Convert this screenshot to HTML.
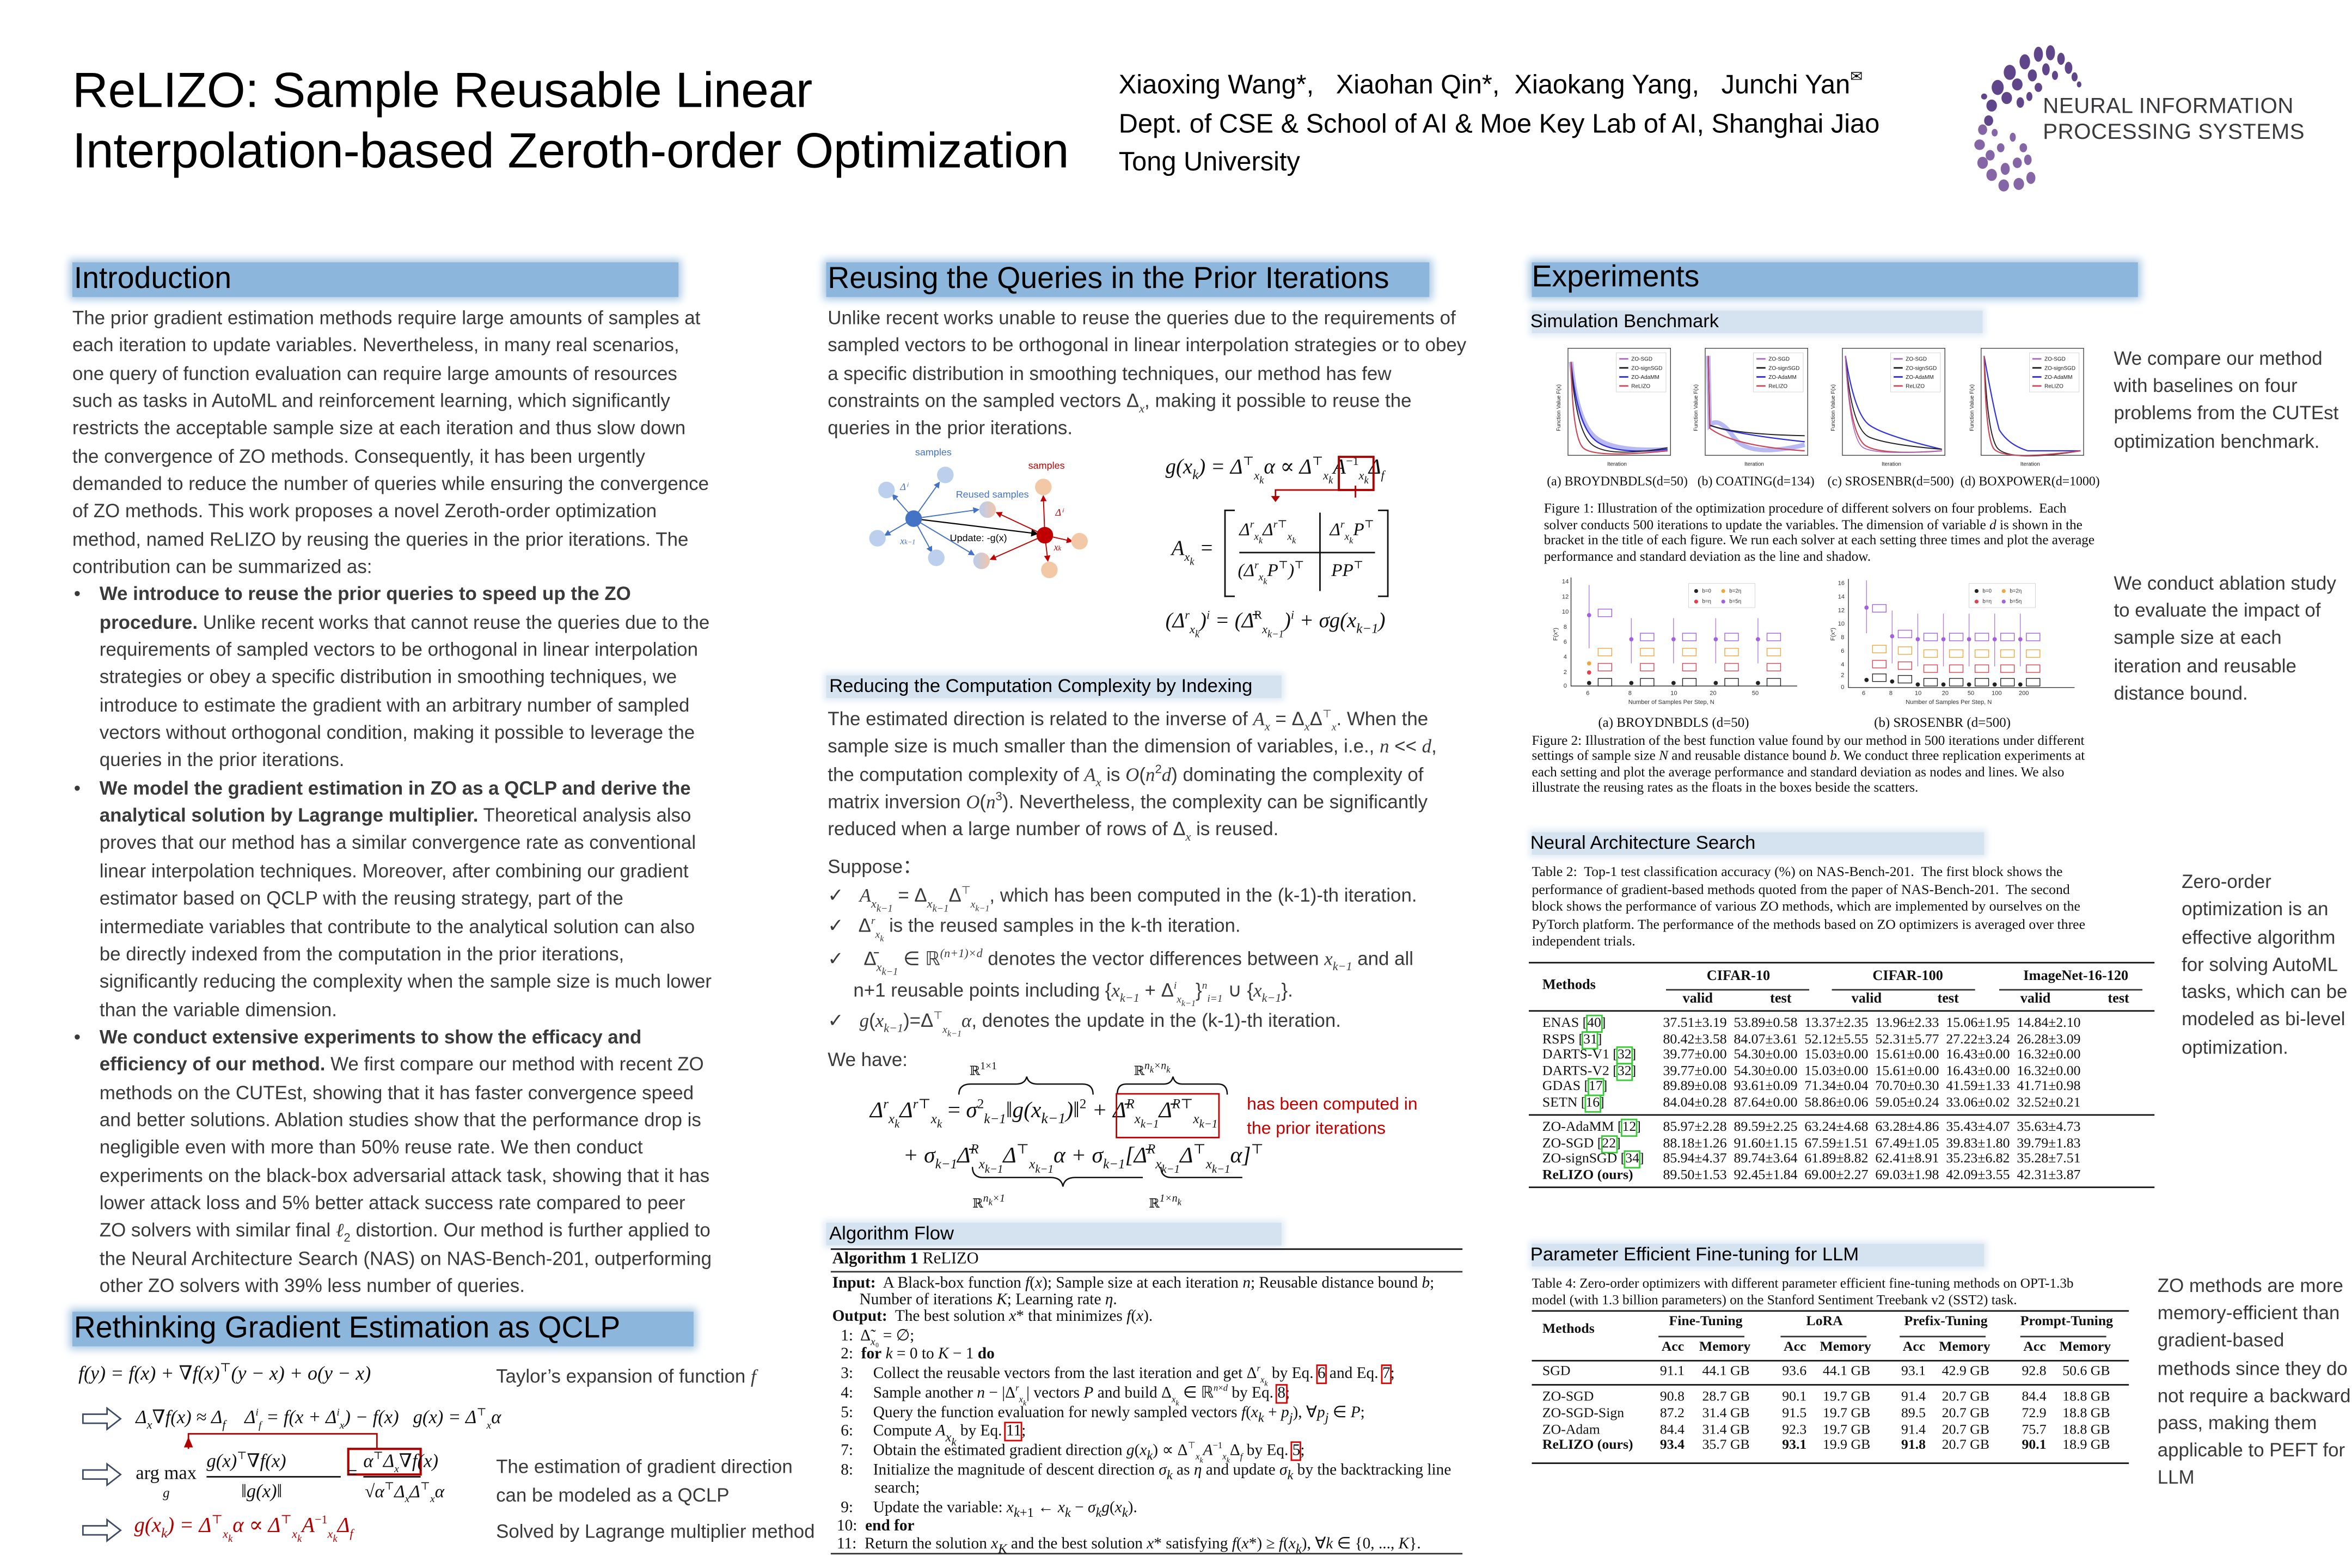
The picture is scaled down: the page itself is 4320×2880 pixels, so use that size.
<!DOCTYPE html>
<html><head><meta charset="utf-8">
<style>
html,body{margin:0;padding:0;background:#fff;}
body{width:4320px;height:2880px;overflow:hidden;position:relative;}
#w{position:absolute;left:0;top:0;width:1560px;height:1040px;transform:scale(2.76923);transform-origin:0 0;font-family:"Liberation Sans",Arial,sans-serif;color:#333;}
sub,sup{line-height:0;}
.t{position:absolute;white-space:nowrap;}
.hb{position:absolute;height:23px;background:#8cb6db;box-shadow:0 0 5px 2px #a9c8e4;}
.ht{position:absolute;white-space:nowrap;font-size:20px;color:#000;line-height:23px;}
.sb{position:absolute;height:15px;background:#d5e3f0;box-shadow:0 0 4px 2px #e1ebf5;}
.st{position:absolute;white-space:nowrap;font-size:12.5px;color:#000;line-height:15px;}
.body{font-size:12.6px;line-height:18.34px;color:#3a3a3a;}
.body div{white-space:nowrap;}
.m{font-family:"Liberation Serif","DejaVu Serif",serif;font-style:italic;}
.s{font-family:"Liberation Serif","DejaVu Serif",serif;color:#111;}
.alg{font-family:"Liberation Serif",serif;font-size:10.6px;color:#111;}
.red{color:#b00000;}
</style></head><body><div id="w">

<!-- Title -->
<div class="t" style="left:48px;top:40px;font-size:33px;line-height:40px;color:#000;letter-spacing:-0.15px;">ReLIZO: Sample Reusable Linear<br>Interpolation-based Zeroth-order Optimization</div>
<div class="t" style="left:742px;top:40px;font-size:17.6px;color:#000;line-height:24px;">Xiaoxing Wang*,&nbsp;&nbsp; Xiaohan Qin*,&nbsp; Xiaokang Yang,&nbsp;&nbsp; Junchi Yan<span style="font-size:10px;vertical-align:8px;">✉</span></div>
<div class="t" style="left:742px;top:70px;font-size:17.6px;color:#000;line-height:24.5px;">Dept. of CSE &amp; School of AI &amp; Moe Key Lab of AI, Shanghai Jiao<br>Tong University</div>

<!-- Logo -->
<svg class="t" style="left:1305px;top:28px;" width="100" height="102" viewBox="0 0 100 102">
<g fill="#5f4589">
<ellipse cx="20" cy="30" rx="4" ry="5"/><ellipse cx="28" cy="20" rx="4" ry="5"/><ellipse cx="38" cy="13" rx="3.5" ry="5"/><ellipse cx="47" cy="8" rx="3" ry="5"/><ellipse cx="55" cy="7" rx="3" ry="5"/><ellipse cx="62" cy="11" rx="2.5" ry="4"/><ellipse cx="67" cy="17" rx="2.5" ry="4"/><ellipse cx="71" cy="23" rx="2" ry="3"/><ellipse cx="74" cy="28" rx="1.5" ry="2"/>
<ellipse cx="16" cy="42" rx="3.5" ry="4"/><ellipse cx="26" cy="37" rx="3.5" ry="4"/><ellipse cx="33" cy="28" rx="3.5" ry="4"/><ellipse cx="43" cy="22" rx="3" ry="4"/><ellipse cx="52" cy="18" rx="2.5" ry="4"/><ellipse cx="58" cy="22" rx="2" ry="3"/><ellipse cx="47" cy="30" rx="2.5" ry="3"/><ellipse cx="35" cy="40" rx="2.5" ry="3.5"/><ellipse cx="41" cy="36" rx="2" ry="3"/><ellipse cx="14" cy="52" rx="3" ry="3.5"/><ellipse cx="11" cy="36" rx="2" ry="2"/>
</g>
<g fill="#8466a6">
<ellipse cx="10" cy="58" rx="3" ry="3.5"/><ellipse cx="8" cy="68" rx="3.5" ry="3.5"/><ellipse cx="15" cy="75" rx="3" ry="3.5"/><ellipse cx="22" cy="70" rx="2.5" ry="3"/><ellipse cx="10" cy="80" rx="3.5" ry="4"/><ellipse cx="16" cy="88" rx="3.5" ry="4"/><ellipse cx="25" cy="84" rx="3" ry="4"/><ellipse cx="33" cy="80" rx="3" ry="3.5"/><ellipse cx="24" cy="95" rx="3.5" ry="4"/><ellipse cx="34" cy="94" rx="3.5" ry="4"/><ellipse cx="42" cy="90" rx="3" ry="4"/><ellipse cx="37" cy="70" rx="2.5" ry="3"/><ellipse cx="30" cy="63" rx="2" ry="3"/><ellipse cx="18" cy="60" rx="2" ry="2.5"/><ellipse cx="40" cy="78" rx="2.5" ry="3.5"/>
</g></svg>
<div class="t" style="left:1355px;top:63px;font-size:14.5px;line-height:16.5px;color:#3a3a3d;letter-spacing:0.2px;">NEURAL INFORMATION<br>PROCESSING SYSTEMS</div>

<!-- Section headers -->
<div class="hb" style="left:48px;top:174px;width:402px;"></div><div class="ht" style="left:49px;top:174px;">Introduction</div>
<div class="hb" style="left:548px;top:174px;width:400px;"></div><div class="ht" style="left:549px;top:174px;">Reusing the Queries in the Prior Iterations</div>
<div class="hb" style="left:1016px;top:174px;width:402px;"></div><div class="ht" style="left:1016px;top:173px;">Experiments</div>
<div class="hb" style="left:48px;top:870px;width:412px;"></div><div class="ht" style="left:49px;top:870px;">Rethinking Gradient Estimation as QCLP</div>

<!-- Intro text -->
<div class="t body" style="left:48px;top:202px;">
<div>The prior gradient estimation methods require large amounts of samples at</div>
<div>each iteration to update variables. Nevertheless, in many real scenarios,</div>
<div>one query of function evaluation can require large amounts of resources</div>
<div>such as tasks in AutoML and reinforcement learning, which significantly</div>
<div>restricts the acceptable sample size at each iteration and thus slow down</div>
<div>the convergence of ZO methods. Consequently, it has been urgently</div>
<div>demanded to reduce the number of queries while ensuring the convergence</div>
<div>of ZO methods. This work proposes a novel Zeroth-order optimization</div>
<div>method, named ReLIZO by reusing the queries in the prior iterations. The</div>
<div>contribution can be summarized as:</div>
</div>
<div class="t body" style="left:48px;top:385.4px;">
<div style="position:absolute;left:1px;">•</div>
<div style="margin-left:18px;"><b>We introduce to reuse the prior queries to speed up the ZO</b></div>
<div style="margin-left:18px;"><b>procedure.</b> Unlike recent works that cannot reuse the queries due to the</div>
<div style="margin-left:18px;">requirements of sampled vectors to be orthogonal in linear interpolation</div>
<div style="margin-left:18px;">strategies or obey a specific distribution in smoothing techniques, we</div>
<div style="margin-left:18px;">introduce to estimate the gradient with an arbitrary number of sampled</div>
<div style="margin-left:18px;">vectors without orthogonal condition, making it possible to leverage the</div>
<div style="margin-left:18px;">queries in the prior iterations.</div>
<div style="position:absolute;left:1px;top:128.4px;">•</div>
<div style="margin-left:18px;"><b>We model the gradient estimation in ZO as a QCLP and derive the</b></div>
<div style="margin-left:18px;"><b>analytical solution by Lagrange multiplier.</b> Theoretical analysis also</div>
<div style="margin-left:18px;">proves that our method has a similar convergence rate as conventional</div>
<div style="margin-left:18px;">linear interpolation techniques. Moreover, after combining our gradient</div>
<div style="margin-left:18px;">estimator based on QCLP with the reusing strategy, part of the</div>
<div style="margin-left:18px;">intermediate variables that contribute to the analytical solution can also</div>
<div style="margin-left:18px;">be directly indexed from the computation in the prior iterations,</div>
<div style="margin-left:18px;">significantly reducing the complexity when the sample size is much lower</div>
<div style="margin-left:18px;">than the variable dimension.</div>
<div style="position:absolute;left:1px;top:293.4px;">•</div>
<div style="margin-left:18px;"><b>We conduct extensive experiments to show the efficacy and</b></div>
<div style="margin-left:18px;"><b>efficiency of our method.</b> We first compare our method with recent ZO</div>
<div style="margin-left:18px;">methods on the CUTEst, showing that it has faster convergence speed</div>
<div style="margin-left:18px;">and better solutions. Ablation studies show that the performance drop is</div>
<div style="margin-left:18px;">negligible even with more than 50% reuse rate. We then conduct</div>
<div style="margin-left:18px;">experiments on the black-box adversarial attack task, showing that it has</div>
<div style="margin-left:18px;">lower attack loss and 5% better attack success rate compared to peer</div>
<div style="margin-left:18px;">ZO solvers with similar final <span class="m">ℓ</span><sub style="font-size:8px">2</sub> distortion. Our method is further applied to</div>
<div style="margin-left:18px;">the Neural Architecture Search (NAS) on NAS-Bench-201, outperforming</div>
<div style="margin-left:18px;">other ZO solvers with 39% less number of queries.</div>
</div>

<!-- QCLP equations -->
<div class="t s m" style="left:52px;top:903px;font-size:13px;">f(y) = f(x) + ∇f(x)<sup style="font-size:8px;font-style:normal">⊤</sup>(y − x) + o(y − x)</div>
<div class="t" style="left:329px;top:906px;font-size:12.6px;color:#3a3a3a;">Taylor’s expansion of function <span class="m">f</span></div>
<svg class="t" style="left:54px;top:933px;" width="28" height="16"><path d="M1 5 H17 V1 L26 8 L17 15 V11 H1 Z" fill="none" stroke="#3c4a66" stroke-width="1"/></svg>
<div class="t s m" style="left:90px;top:932px;font-size:12.5px;">Δ<sub style="font-size:8px">x</sub>∇f(x) ≈ Δ<sub style="font-size:8px">f</sub>&nbsp;&nbsp;&nbsp; Δ<sup style="font-size:7px">i</sup><sub style="font-size:7px">f</sub> = f(x + Δ<sup style="font-size:7px">i</sup><sub style="font-size:7px">x</sub>) − f(x)&nbsp;&nbsp; g(x) = Δ<sup style="font-size:7px;font-style:normal">⊤</sup><sub style="font-size:7px">x</sub>α</div>
<svg class="t" style="left:100px;top:948px;" width="190" height="32"><path d="M150 13 V3 H25 V13" fill="none" stroke="#b00000" stroke-width="1"/><path d="M22 12 L25 5 L28 12 Z" fill="#b00000"/><rect x="131" y="13" width="48" height="17" fill="none" stroke="#b00000" stroke-width="1.5"/></svg>
<svg class="t" style="left:54px;top:970px;" width="28" height="16"><path d="M1 5 H17 V1 L26 8 L17 15 V11 H1 Z" fill="none" stroke="#3c4a66" stroke-width="1"/></svg>
<div class="t s" style="left:90px;top:970px;font-size:12.5px;">arg max</div>
<div class="t s m" style="left:108px;top:985px;font-size:9px;">g</div>
<div class="t s m" style="left:137px;top:961px;font-size:12.5px;">g(x)<sup style="font-size:7px;font-style:normal">⊤</sup>∇f(x)</div>
<div class="t" style="left:137px;top:979px;width:89px;border-top:1px solid #111;"></div>
<div class="t s m" style="left:160px;top:982px;font-size:12.5px;">‖g(x)‖</div>
<div class="t s" style="left:230px;top:970px;font-size:12.5px;">=</div>
<div class="t s m" style="left:241px;top:961px;font-size:12.5px;">α<sup style="font-size:7px;font-style:normal">⊤</sup>Δ<sub style="font-size:7px">x</sub>∇f(x)</div>
<div class="t" style="left:241px;top:979px;width:38px;border-top:1px solid #111;"></div>
<div class="t s m" style="left:242px;top:982px;font-size:12px;">√α<sup style="font-size:7px;font-style:normal">⊤</sup>Δ<sub style="font-size:7px">x</sub>Δ<sup style="font-size:7px;font-style:normal">⊤</sup><sub style="font-size:7px">x</sub>α</div>
<div class="t" style="left:329px;top:964px;font-size:12.6px;line-height:18.5px;color:#3a3a3a;">The estimation of gradient direction<br>can be modeled as a QCLP</div>
<svg class="t" style="left:54px;top:1007px;" width="28" height="16"><path d="M1 5 H17 V1 L26 8 L17 15 V11 H1 Z" fill="none" stroke="#3c4a66" stroke-width="1"/></svg>
<div class="t s m red" style="left:89px;top:1004px;font-size:14px;color:#b00000;">g(x<sub style="font-size:9px">k</sub>) = Δ<sup style="font-size:8px;font-style:normal">⊤</sup><sub style="font-size:8px">x<sub>k</sub></sub>α ∝ Δ<sup style="font-size:8px;font-style:normal">⊤</sup><sub style="font-size:8px">x<sub>k</sub></sub>A<sup style="font-size:8px;font-style:normal">−1</sup><sub style="font-size:8px">x<sub>k</sub></sub>Δ<sub style="font-size:8px">f</sub></div>
<div class="t" style="left:329px;top:1009px;font-size:12.6px;color:#3a3a3a;">Solved by Lagrange multiplier method</div>

<!-- Column 2 -->
<div class="t body" style="left:549px;top:202px;">
<div>Unlike recent works unable to reuse the queries due to the requirements of</div>
<div>sampled vectors to be orthogonal in linear interpolation strategies or to obey</div>
<div>a specific distribution in smoothing techniques, our method has few</div>
<div>constraints on the sampled vectors Δ<sub style="font-size:8px" class="m">x</sub>, making it possible to reuse the</div>
<div>queries in the prior iterations.</div>
</div>
<svg class="t" style="left:560px;top:292px;" width="180" height="95" viewBox="560 292 180 95">
<defs><marker id="ab" markerWidth="6" markerHeight="6" refX="5" refY="3" orient="auto"><path d="M0 0 L6 3 L0 6 Z" fill="#4472c4"/></marker>
<marker id="ar" markerWidth="6" markerHeight="6" refX="5" refY="3" orient="auto"><path d="M0 0 L6 3 L0 6 Z" fill="#c00000"/></marker>
<marker id="ak" markerWidth="6" markerHeight="6" refX="5" refY="3" orient="auto"><path d="M0 0 L6 3 L0 6 Z" fill="#000"/></marker>
<linearGradient id="g1" x1="0" x2="1"><stop offset="0" stop-color="#b9cdee"/><stop offset="1" stop-color="#f1c6ab"/></linearGradient></defs>
<g stroke="#4472c4" stroke-width="0.7" marker-end="url(#ab)"><line x1="606" y1="344" x2="592" y2="328"/><line x1="606" y1="344" x2="623" y2="320"/><line x1="606" y1="344" x2="587" y2="355"/><line x1="606" y1="344" x2="618" y2="366"/><line x1="606" y1="344" x2="649" y2="338"/><line x1="606" y1="344" x2="646" y2="368"/></g>
<g stroke="#c00000" stroke-width="0.7" marker-end="url(#ar)"><line x1="693" y1="355" x2="692" y2="329"/><line x1="693" y1="355" x2="711" y2="359"/><line x1="693" y1="355" x2="695" y2="372"/><line x1="693" y1="355" x2="661" y2="340"/><line x1="693" y1="355" x2="657" y2="371"/></g>
<line x1="606" y1="344" x2="688" y2="354" stroke="#000" stroke-width="0.8" marker-end="url(#ak)"/>
<g fill="#bcd0ee"><circle cx="588" cy="325" r="5.5"/><circle cx="627" cy="315" r="5.5"/><circle cx="582" cy="357" r="5.5"/><circle cx="621" cy="370" r="5.5"/></g>
<circle cx="655" cy="338" r="5.5" fill="url(#g1)"/><circle cx="651" cy="372" r="5.5" fill="url(#g1)"/>
<g fill="#f2c8a7"><circle cx="692" cy="323" r="5.5"/><circle cx="716" cy="359" r="5.5"/><circle cx="696" cy="378" r="5.5"/></g>
<circle cx="606" cy="344" r="5.5" fill="#4472c4"/><circle cx="693" cy="355" r="5.5" fill="#c00000"/>
<g font-family="Liberation Sans" font-size="6.5"><text x="607" y="302" fill="#4472c4">samples</text><text x="682" y="311" fill="#c00000">samples</text><text x="634" y="330" fill="#4472c4">Reused samples</text><text x="630" y="359" fill="#000">Update: -g(x)</text>
<text x="597" y="325" fill="#4472c4" font-style="italic" font-family="Liberation Serif">Δⁱ</text><text x="597" y="361" fill="#4472c4" font-style="italic" font-family="Liberation Serif">x<tspan font-size="4.5">k−1</tspan></text><text x="700" y="342" fill="#c00000" font-style="italic" font-family="Liberation Serif">Δⁱ</text><text x="699" y="365" fill="#c00000" font-style="italic" font-family="Liberation Serif">x<tspan font-size="4.5">k</tspan></text></g>
</svg>
<div class="t s m" style="left:773px;top:302px;font-size:14px;">g(x<sub style="font-size:9px">k</sub>) = Δ<sup style="font-size:8px;font-style:normal">⊤</sup><sub style="font-size:8px">x<sub>k</sub></sub>α ∝ Δ<sup style="font-size:8px;font-style:normal">⊤</sup><sub style="font-size:8px">x<sub>k</sub></sub>A<sup style="font-size:8px;font-style:normal">−1</sup><sub style="font-size:8px">x<sub>k</sub></sub>Δ<sub style="font-size:8px">f</sub></div>
<svg class="t" style="left:800px;top:300px;" width="120" height="30"><rect x="88" y="3" width="23" height="22" fill="none" stroke="#b00000" stroke-width="1.4"/><path d="M99 25 V31" stroke="#b00000"/></svg>
<svg class="t" style="left:843px;top:322px;" width="60" height="12"><path d="M56 0 V3 H3 V8" fill="none" stroke="#b00000" stroke-width="1"/><path d="M0 7 L3 11 L6 7 Z" fill="#b00000"/></svg>
<div class="t s m" style="left:777px;top:357px;font-size:14px;">A<sub style="font-size:8px">x<sub>k</sub></sub> =</div>
<div class="t" style="left:812px;top:338px;width:6px;height:56px;border:1.5px solid #111;border-right:none;"></div>
<div class="t" style="left:914px;top:338px;width:6px;height:56px;border:1.5px solid #111;border-left:none;"></div>
<div class="t" style="left:875px;top:340px;height:52px;border-left:1px solid #111;"></div>
<div class="t" style="left:822px;top:366px;width:90px;border-top:1px solid #111;"></div>
<div class="t s m" style="left:822px;top:344px;font-size:12px;">Δ<sup style="font-size:7px">r</sup><sub style="font-size:7px">x<sub>k</sub></sub>Δ<sup style="font-size:7px">r⊤</sup><sub style="font-size:7px">x<sub>k</sub></sub></div>
<div class="t s m" style="left:882px;top:344px;font-size:12px;">Δ<sup style="font-size:7px">r</sup><sub style="font-size:7px">x<sub>k</sub></sub>P<sup style="font-size:7px;font-style:normal">⊤</sup></div>
<div class="t s m" style="left:821px;top:371px;font-size:12px;">(Δ<sup style="font-size:7px">r</sup><sub style="font-size:7px">x<sub>k</sub></sub>P<sup style="font-size:7px;font-style:normal">⊤</sup>)<sup style="font-size:7px;font-style:normal">⊤</sup></div>
<div class="t s m" style="left:883px;top:371px;font-size:12px;">PP<sup style="font-size:7px;font-style:normal">⊤</sup></div>
<div class="t s m" style="left:773px;top:405px;font-size:14px;">(Δ<sup style="font-size:8px">r</sup><sub style="font-size:8px">x<sub>k</sub></sub>)<sup style="font-size:8px">i</sup> = (Δ̄<sup style="font-size:8px;font-style:normal">R</sup><sub style="font-size:8px">x<sub>k−1</sub></sub>)<sup style="font-size:8px">i</sup> + σg(x<sub style="font-size:9px">k−1</sub>)</div>

<div class="sb" style="left:548px;top:448px;width:302px;"></div><div class="st" style="left:550px;top:448px;">Reducing the Computation Complexity by Indexing</div>
<div class="t body" style="left:549px;top:468px;">
<div>The estimated direction is related to the inverse of <span class="m">A<sub style="font-size:8px">x</sub></span> = Δ<sub style="font-size:8px" class="m">x</sub>Δ<sup style="font-size:7px">⊤</sup><sub style="font-size:7px" class="m">x</sub>. When the</div>
<div>sample size is much smaller than the dimension of variables, i.e., <span class="m">n</span> &lt;&lt; <span class="m">d</span>,</div>
<div>the computation complexity of <span class="m">A<sub style="font-size:8px">x</sub></span> is <span class="m">O</span>(<span class="m">n</span><sup style="font-size:8px">2</sup><span class="m">d</span>) dominating the complexity of</div>
<div>matrix inversion <span class="m">O</span>(<span class="m">n</span><sup style="font-size:8px">3</sup>). Nevertheless, the complexity can be significantly</div>
<div>reduced when a large number of rows of Δ<sub style="font-size:8px" class="m">x</sub> is reused.</div>
</div>
<div class="t body" style="left:549px;top:566px;">Suppose：</div>
<div class="t body" style="left:549px;top:585px;">✓&nbsp;&nbsp; <span class="m">A<sub style="font-size:8px">x<sub>k−1</sub></sub></span> = Δ<sub style="font-size:8px" class="m">x<sub>k−1</sub></sub>Δ<sup style="font-size:7px">⊤</sup><sub style="font-size:7px" class="m">x<sub>k−1</sub></sub>, which has been computed in the (k-1)-th iteration.</div>
<div class="t body" style="left:549px;top:605px;">✓&nbsp;&nbsp; Δ<sup style="font-size:7px" class="m">r</sup><sub style="font-size:7px" class="m">x<sub>k</sub></sub> is the reused samples in the k-th iteration.</div>
<div class="t body" style="left:549px;top:627px;">✓&nbsp;&nbsp;&nbsp; Δ̄<sub style="font-size:8px" class="m">x<sub>k−1</sub></sub> ∈ ℝ<sup style="font-size:8px" class="m">(n+1)×d</sup> denotes the vector differences between <span class="m">x<sub style="font-size:8px">k−1</sub></span> and all</div>
<div class="t body" style="left:566px;top:648px;">n+1 reusable points including {<span class="m">x<sub style="font-size:8px">k−1</sub></span> + Δ<sup style="font-size:7px" class="m">i</sup><sub style="font-size:7px" class="m">x<sub>k−1</sub></sub>}<sup style="font-size:7px" class="m">n</sup><sub style="font-size:7px" class="m">i=1</sub> ∪ {<span class="m">x<sub style="font-size:8px">k−1</sub></span>}.</div>
<div class="t body" style="left:549px;top:668px;">✓&nbsp;&nbsp; <span class="m">g</span>(<span class="m">x<sub style="font-size:8px">k−1</sub></span>)=Δ<sup style="font-size:7px">⊤</sup><sub style="font-size:7px" class="m">x<sub>k−1</sub></sub><span class="m">α</span>, denotes the update in the (k-1)-th iteration.</div>
<div class="t body" style="left:549px;top:694px;">We have:</div>

<div class="t s" style="left:643px;top:705px;font-size:8.5px;">ℝ<sup>1×1</sup></div>
<div class="t s" style="left:752px;top:705px;font-size:8.5px;"><span>ℝ</span><sup class="m">n<sub>k</sub>×n<sub>k</sub></sup></div>
<svg class="t" style="left:600px;top:714px;" width="230" height="80"><g fill="none" stroke="#111" stroke-width="0.9"><path d="M36 12 Q36 5 44 5 H74 Q80 5 81 0 Q82 5 88 5 H118 Q125 5 125 12"/><path d="M141 12 Q141 5 147 5 H172 Q177 5 178 0 Q179 5 184 5 H208 Q214 5 214 12"/><path d="M45 60 Q45 67 52 67 H97 Q104 67 105 73 Q106 67 113 67 H158"/><path d="M170 60 Q170 67 177 67 H224"/></g></svg>
<div class="t s m" style="left:577px;top:729px;font-size:15px;">Δ<sup style="font-size:9px">r</sup><sub style="font-size:9px">x<sub>k</sub></sub>Δ<sup style="font-size:9px">r⊤</sup><sub style="font-size:9px">x<sub>k</sub></sub> <span style="font-style:normal">=</span> σ<sup style="font-size:9px;font-style:normal">2</sup><sub style="font-size:9px">k−1</sub>‖g(x<sub style="font-size:10px">k−1</sub>)‖<sup style="font-size:9px;font-style:normal">2</sup> + Δ̄<sup style="font-size:9px">R</sup><sub style="font-size:9px">x<sub>k−1</sub></sub>Δ̄<sup style="font-size:9px">R⊤</sup><sub style="font-size:9px">x<sub>k−1</sub></sub></div>
<div class="t" style="left:740px;top:725px;width:67px;height:28px;border:1.5px solid #c00000;"></div>
<div class="t" style="left:827px;top:725px;font-size:11.5px;line-height:16px;color:#c00000;">has been computed in<br>the prior iterations</div>
<div class="t s m" style="left:599px;top:759px;font-size:15px;">+ σ<sub style="font-size:9px">k−1</sub>Δ̄<sup style="font-size:9px">R</sup><sub style="font-size:9px">x<sub>k−1</sub></sub>Δ<sup style="font-size:9px;font-style:normal">⊤</sup><sub style="font-size:9px">x<sub>k−1</sub></sub>α + σ<sub style="font-size:9px">k−1</sub>[Δ̄<sup style="font-size:9px">R</sup><sub style="font-size:9px">x<sub>k−1</sub></sub>Δ<sup style="font-size:9px;font-style:normal">⊤</sup><sub style="font-size:9px">x<sub>k−1</sub></sub>α]<sup style="font-size:9px;font-style:normal">⊤</sup></div>
<div class="t s" style="left:645px;top:793px;font-size:8.5px;">ℝ<sup class="m">n<sub>k</sub>×1</sup></div>
<div class="t s" style="left:762px;top:793px;font-size:8.5px;">ℝ<sup class="m">1×n<sub>k</sub></sup></div>

<div class="sb" style="left:548px;top:811px;width:302px;"></div><div class="st" style="left:550px;top:811px;">Algorithm Flow</div>
<div class="t" style="left:551px;top:828px;width:419px;border-top:1.3px solid #111;"></div>
<div class="t alg" style="left:552px;top:829px;font-size:11px;"><b>Algorithm 1</b> ReLIZO</div>
<div class="t" style="left:551px;top:843px;width:419px;border-top:0.8px solid #333;"></div>
<div class="t alg" style="left:552px;top:846px;line-height:11.2px;">
<div><b>Input:</b>&nbsp; A Black-box function <i>f</i>(<i>x</i>); Sample size at each iteration <i>n</i>; Reusable distance bound <i>b</i>;</div>
<div style="margin-left:18px;">Number of iterations <i>K</i>; Learning rate <i>η</i>.</div>
<div><b>Output:</b>&nbsp; The best solution <i>x</i>* that minimizes <i>f</i>(<i>x</i>).</div>
</div>
<div class="t alg" style="left:555px;top:881px;line-height:12.3px;">
<div>&nbsp;1:&nbsp; Δ̃<sub style="font-size:7px"><i>x</i>₀</sub> = ∅;</div>
<div>&nbsp;2:&nbsp; <b>for</b> <i>k</i> = 0 to <i>K</i> − 1 <b>do</b></div>
<div>&nbsp;3:&nbsp;&nbsp;&nbsp;&nbsp; Collect the reusable vectors from the last iteration and get Δ<sup style="font-size:6px"><i>r</i></sup><sub style="font-size:6px"><i>x<sub>k</sub></i></sub> by Eq. <span style="outline:1px solid #d00;">6</span> and Eq. <span style="outline:1px solid #d00;">7</span>;</div>
<div>&nbsp;4:&nbsp;&nbsp;&nbsp;&nbsp; Sample another <i>n</i> − |Δ<sup style="font-size:6px"><i>r</i></sup><sub style="font-size:6px"><i>x<sub>k</sub></i></sub>| vectors <i>P</i> and build Δ<sub style="font-size:6px"><i>x<sub>k</sub></i></sub> ∈ ℝ<sup style="font-size:6px"><i>n</i>×<i>d</i></sup> by Eq. <span style="outline:1px solid #d00;">8</span>;</div>
<div>&nbsp;5:&nbsp;&nbsp;&nbsp;&nbsp; Query the function evaluation for newly sampled vectors <i>f</i>(<i>x<sub>k</sub></i> + <i>p<sub>j</sub></i>), ∀<i>p<sub>j</sub></i> ∈ <i>P</i>;</div>
<div>&nbsp;6:&nbsp;&nbsp;&nbsp;&nbsp; Compute <i>A<sub>x<sub>k</sub></sub></i> by Eq. <span style="outline:1px solid #d00;">11</span>;</div>
<div>&nbsp;7:&nbsp;&nbsp;&nbsp;&nbsp; Obtain the estimated gradient direction <i>g</i>(<i>x<sub>k</sub></i>) ∝ Δ<sup style="font-size:6px">⊤</sup><sub style="font-size:6px"><i>x<sub>k</sub></i></sub><i>A</i><sup style="font-size:6px">−1</sup><sub style="font-size:6px"><i>x<sub>k</sub></i></sub>Δ<sub style="font-size:6px"><i>f</i></sub> by Eq. <span style="outline:1px solid #d00;">5</span>;</div>
<div>&nbsp;8:&nbsp;&nbsp;&nbsp;&nbsp; Initialize the magnitude of descent direction <i>σ<sub>k</sub></i> as <i>η</i> and update <i>σ<sub>k</sub></i> by the backtracking line</div>
<div style="margin-left:25px;">search;</div>
<div>&nbsp;9:&nbsp;&nbsp;&nbsp;&nbsp; Update the variable: <i>x</i><sub><i>k</i>+1</sub> ← <i>x<sub>k</sub></i> − <i>σ<sub>k</sub>g</i>(<i>x<sub>k</sub></i>).</div>
<div>10:&nbsp; <b>end for</b></div>
<div>11:&nbsp; Return the solution <i>x<sub>K</sub></i> and the best solution <i>x</i>* satisfying <i>f</i>(<i>x</i>*) ≥ <i>f</i>(<i>x<sub>k</sub></i>), ∀<i>k</i> ∈ {0, ..., <i>K</i>}.</div>
</div>
<div class="t" style="left:551px;top:1030px;width:419px;border-top:0.8px solid #333;"></div>

<!-- Column 3 -->
<div class="sb" style="left:1016px;top:206px;width:299px;"></div><div class="st" style="left:1015px;top:206px;">Simulation Benchmark</div>

<svg class="t" style="left:1025px;top:225px;" width="370" height="90" viewBox="1025 225 370 90" font-family="Liberation Sans">
<rect x="1040" y="231" width="68" height="71" fill="none" stroke="#444" stroke-width="0.5"/>
<path d="M1042 240 Q1046 280 1058 290 T1106 298" stroke="#3333dd" stroke-width="3" opacity="0.35" fill="none"/>
<path d="M1042 240 Q1046 282 1058 292 T1106 298" stroke="#2a2ae0" stroke-width="0.8" fill="none"/>
<path d="M1042 240 Q1045 284 1055 294 T1106 297" stroke="#222" stroke-width="0.7" fill="none"/>
<path d="M1042 240 Q1043 290 1050 297 T1106 299" stroke="#cc4455" stroke-width="0.8" fill="none"/>
<rect x="1131" y="231" width="68" height="71" fill="none" stroke="#444" stroke-width="0.5"/>
<path d="M1133 236 L1134 282 Q1140 276 1150 290 T1197 295" stroke="#3333dd" stroke-width="3" opacity="0.35" fill="none"/>
<path d="M1133 236 L1134 282 Q1150 288 1197 293" stroke="#2a2ae0" stroke-width="0.8" fill="none"/>
<path d="M1133 236 L1134 282 Q1150 288 1197 289" stroke="#222" stroke-width="0.7" fill="none"/>
<path d="M1133 236 L1134 284 Q1150 296 1197 299" stroke="#cc4455" stroke-width="0.8" fill="none"/>
<rect x="1222" y="231" width="68" height="71" fill="none" stroke="#444" stroke-width="0.5"/>
<path d="M1224 236 Q1230 275 1240 282 T1288 298" stroke="#3333dd" stroke-width="0.8" fill="none"/>
<path d="M1224 236 Q1228 285 1240 290 T1288 298" stroke="#222" stroke-width="0.7" fill="none"/>
<path d="M1224 236 Q1227 290 1238 296 T1288 299" stroke="#cc4455" stroke-width="0.8" fill="none"/>
<path d="M1224 236 Q1227 292 1236 297 T1288 299" stroke="#aa66bb" stroke-width="0.6" fill="none"/>
<rect x="1314" y="231" width="68" height="71" fill="none" stroke="#444" stroke-width="0.5"/>
<path d="M1316 236 Q1322 270 1326 285 Q1332 295 1345 299 H1380" stroke="#3333dd" stroke-width="0.8" fill="none"/>
<path d="M1316 236 Q1318 285 1324 296 T1380 299" stroke="#222" stroke-width="0.7" fill="none"/>
<path d="M1316 236 Q1317 288 1322 297 T1380 299" stroke="#cc4455" stroke-width="0.8" fill="none"/>
<g font-size="3.6" fill="#222">
<g transform="translate(1072,234)"><rect width="33" height="26" fill="#fff" stroke="#ccc" stroke-width="0.3"/><line x1="2" y1="4" x2="8" y2="4" stroke="#aa66bb"/><text x="10" y="5.3">ZO-SGD</text><line x1="2" y1="10" x2="8" y2="10" stroke="#222"/><text x="10" y="11.3">ZO-signSGD</text><line x1="2" y1="16" x2="8" y2="16" stroke="#2a2ae0"/><text x="10" y="17.3">ZO-AdaMM</text><line x1="2" y1="22" x2="8" y2="22" stroke="#cc4455"/><text x="10" y="23.3">ReLIZO</text></g>
<g transform="translate(1163,234)"><rect width="33" height="26" fill="#fff" stroke="#ccc" stroke-width="0.3"/><line x1="2" y1="4" x2="8" y2="4" stroke="#aa66bb"/><text x="10" y="5.3">ZO-SGD</text><line x1="2" y1="10" x2="8" y2="10" stroke="#222"/><text x="10" y="11.3">ZO-signSGD</text><line x1="2" y1="16" x2="8" y2="16" stroke="#2a2ae0"/><text x="10" y="17.3">ZO-AdaMM</text><line x1="2" y1="22" x2="8" y2="22" stroke="#cc4455"/><text x="10" y="23.3">ReLIZO</text></g>
<g transform="translate(1254,234)"><rect width="33" height="26" fill="#fff" stroke="#ccc" stroke-width="0.3"/><line x1="2" y1="4" x2="8" y2="4" stroke="#aa66bb"/><text x="10" y="5.3">ZO-SGD</text><line x1="2" y1="10" x2="8" y2="10" stroke="#222"/><text x="10" y="11.3">ZO-signSGD</text><line x1="2" y1="16" x2="8" y2="16" stroke="#2a2ae0"/><text x="10" y="17.3">ZO-AdaMM</text><line x1="2" y1="22" x2="8" y2="22" stroke="#cc4455"/><text x="10" y="23.3">ReLIZO</text></g>
<g transform="translate(1346,234)"><rect width="33" height="26" fill="#fff" stroke="#ccc" stroke-width="0.3"/><line x1="2" y1="4" x2="8" y2="4" stroke="#aa66bb"/><text x="10" y="5.3">ZO-SGD</text><line x1="2" y1="10" x2="8" y2="10" stroke="#222"/><text x="10" y="11.3">ZO-signSGD</text><line x1="2" y1="16" x2="8" y2="16" stroke="#2a2ae0"/><text x="10" y="17.3">ZO-AdaMM</text><line x1="2" y1="22" x2="8" y2="22" stroke="#cc4455"/><text x="10" y="23.3">ReLIZO</text></g>
<text x="1066" y="309">Iteration</text><text x="1157" y="309">Iteration</text><text x="1248" y="309">Iteration</text><text x="1340" y="309">Iteration</text>
<text transform="translate(1035,286) rotate(-90)">Function Value F(x)</text><text transform="translate(1126,286) rotate(-90)">Function Value F(x)</text><text transform="translate(1217,286) rotate(-90)">Function Value F(x)</text><text transform="translate(1309,286) rotate(-90)">Function Value F(x)</text>
</g>
</svg>
<div class="t s" style="left:1026px;top:314px;font-size:8.6px;">(a) BROYDNBDLS(d=50)&nbsp;&nbsp; (b) COATING(d=134)&nbsp;&nbsp;&nbsp; (c) SROSENBR(d=500)&nbsp; (d) BOXPOWER(d=1000)</div>
<div class="t s" style="left:1024px;top:332px;font-size:9.1px;line-height:10.5px;">Figure 1: Illustration of the optimization procedure of different solvers on four problems.&nbsp; Each<br>solver conducts 500 iterations to update the variables. The dimension of variable <i>d</i> is shown in the<br>bracket in the title of each figure. We run each solver at each setting three times and plot the average<br>performance and standard deviation as the line and shadow.</div>
<div class="t" style="left:1402px;top:229px;font-size:12.6px;line-height:18.2px;color:#3a3a3a;">We compare our method<br>with baselines on four<br>problems from the CUTEst<br>optimization benchmark.</div>

<svg class="t" style="left:1020px;top:378px;" width="380" height="110" viewBox="1020 378 380 110" font-family="Liberation Sans">
<g stroke="#333" stroke-width="0.5" fill="none"><path d="M1042 383 V455 H1192"/><path d="M1226 384 V456 H1376"/></g>
<g font-size="4" fill="#333">
<text x="1036" y="387">14</text><text x="1036" y="397">12</text><text x="1036" y="407">10</text><text x="1037" y="417">8</text><text x="1037" y="427">6</text><text x="1037" y="437">4</text><text x="1037" y="447">2</text><text x="1037" y="456">0</text>
<text x="1052" y="461">6</text><text x="1080" y="461">8</text><text x="1108" y="461">10</text><text x="1134" y="461">20</text><text x="1162" y="461">50</text>
<text x="1080" y="467">Number of Samples Per Step, N</text><text x="1264" y="467">Number of Samples Per Step, N</text>
<text transform="translate(1033,425) rotate(-90)">F(x*)</text><text transform="translate(1217,425) rotate(-90)">F(x*)</text>
<text x="1219" y="388">16</text><text x="1219" y="397">14</text><text x="1219" y="406">12</text><text x="1219" y="415">10</text><text x="1221" y="424">8</text><text x="1221" y="433">6</text><text x="1221" y="442">4</text><text x="1221" y="449">2</text><text x="1221" y="457">0</text>
<text x="1235" y="461">6</text><text x="1253" y="461">8</text><text x="1270" y="461">10</text><text x="1288" y="461">20</text><text x="1305" y="461">50</text><text x="1321" y="461">100</text><text x="1339" y="461">200</text>
</g>
<g font-size="3.5"><g transform="translate(1120,387)"><rect width="44" height="16" fill="#fff" stroke="#ccc" stroke-width="0.3"/><text x="9" y="6" fill="#333">b=0</text><text x="27" y="6" fill="#333">b=2η</text><text x="9" y="13" fill="#333">b=η</text><text x="27" y="13" fill="#333">b=5η</text><circle cx="5" cy="5" r="1.3" fill="#222"/><circle cx="23" cy="5" r="1.3" fill="#f0a640"/><circle cx="5" cy="12" r="1.3" fill="#e04050"/><circle cx="23" cy="12" r="1.3" fill="#a060e0"/></g>
<g transform="translate(1306,387)"><rect width="44" height="16" fill="#fff" stroke="#ccc" stroke-width="0.3"/><text x="9" y="6" fill="#333">b=0</text><text x="27" y="6" fill="#333">b=2η</text><text x="9" y="13" fill="#333">b=η</text><text x="27" y="13" fill="#333">b=5η</text><circle cx="5" cy="5" r="1.3" fill="#222"/><circle cx="23" cy="5" r="1.3" fill="#f0a640"/><circle cx="5" cy="12" r="1.3" fill="#e04050"/><circle cx="23" cy="12" r="1.3" fill="#a060e0"/></g></g>
<g stroke-width="0.5" fill="#fff">
<line x1="1054" y1="388" x2="1054" y2="430" stroke="#b080e0"/><circle cx="1054" cy="408" r="1.4" fill="#a060e0" stroke="none"/><rect x="1060" y="404" width="9" height="5" stroke="#a060e0"/>
<circle cx="1054" cy="453" r="1.4" fill="#222" stroke="none"/><rect x="1060" y="450" width="9" height="5" stroke="#222"/>
<circle cx="1054" cy="446" r="1.4" fill="#e04050" stroke="none"/><rect x="1060" y="440" width="9" height="5" stroke="#e04050"/>
<circle cx="1054" cy="440" r="1.4" fill="#f0a640" stroke="none"/><rect x="1060" y="430" width="9" height="5" stroke="#f0a640"/>
<g id="c2"><line x1="1082" y1="410" x2="1082" y2="440" stroke="#b080e0"/><circle cx="1082" cy="424" r="1.4" fill="#a060e0" stroke="none"/><rect x="1088" y="420" width="9" height="5" stroke="#a060e0"/><rect x="1088" y="430" width="9" height="5" stroke="#f0a640"/><rect x="1088" y="440" width="9" height="5" stroke="#e04050"/><rect x="1088" y="450" width="9" height="5" stroke="#222"/><circle cx="1082" cy="453" r="1.4" fill="#222" stroke="none"/></g>
<use href="#c2" x="28"/><use href="#c2" x="56"/><use href="#c2" x="84" y="0"/>
<line x1="1238" y1="385" x2="1238" y2="420" stroke="#b080e0"/><circle cx="1238" cy="403" r="1.4" fill="#a060e0" stroke="none"/><rect x="1242" y="401" width="9" height="5" stroke="#a060e0"/>
<rect x="1242" y="428" width="9" height="5" stroke="#f0a640"/><rect x="1242" y="438" width="9" height="5" stroke="#e04050"/><rect x="1242" y="447" width="9" height="5" stroke="#222"/><circle cx="1238" cy="451" r="1.4" fill="#222" stroke="none"/>
<g id="c3"><line x1="1255" y1="405" x2="1255" y2="440" stroke="#b080e0"/><circle cx="1255" cy="422" r="1.4" fill="#a060e0" stroke="none"/><rect x="1259" y="418" width="9" height="5" stroke="#a060e0"/><rect x="1259" y="429" width="9" height="5" stroke="#f0a640"/><rect x="1259" y="439" width="9" height="5" stroke="#e04050"/><rect x="1259" y="448" width="9" height="5" stroke="#222"/><circle cx="1255" cy="452" r="1.4" fill="#222" stroke="none"/></g>
<use href="#c3" x="17" y="2"/><use href="#c3" x="34" y="2"/><use href="#c3" x="51" y="2"/><use href="#c3" x="68" y="2"/><use href="#c3" x="85" y="2"/>
</g>
</svg>
<div class="t s" style="left:1060px;top:474px;font-size:9px;">(a) BROYDNBDLS (d=50)</div>
<div class="t s" style="left:1243px;top:474px;font-size:9px;">(b) SROSENBR (d=500)</div>
<div class="t s" style="left:1016px;top:486px;font-size:9.1px;line-height:10.3px;">Figure 2: Illustration of the best function value found by our method in 500 iterations under different<br>settings of sample size <i>N</i> and reusable distance bound <i>b</i>. We conduct three replication experiments at<br>each setting and plot the average performance and standard deviation as nodes and lines. We also<br>illustrate the reusing rates as the floats in the boxes beside the scatters.</div>
<div class="t" style="left:1402px;top:378px;font-size:12.6px;line-height:18.2px;color:#3a3a3a;">We conduct ablation study<br>to evaluate the impact of<br>sample size at each<br>iteration and reusable<br>distance bound.</div>

<!-- NAS -->
<div class="sb" style="left:1016px;top:552px;width:300px;"></div><div class="st" style="left:1015px;top:552px;">Neural Architecture Search</div>
<div class="t s" style="left:1016px;top:574px;font-size:9.3px;line-height:11.5px;">Table 2:&nbsp; Top-1 test classification accuracy (%) on NAS-Bench-201.&nbsp; The first block shows the<br>performance of gradient-based methods quoted from the paper of NAS-Bench-201.&nbsp; The second<br>block shows the performance of various ZO methods, which are implemented by ourselves on the<br>PyTorch platform. The performance of the methods based on ZO optimizers is averaged over three<br>independent trials.</div>
<div class="t" style="left:1014px;top:638px;width:415px;border-top:1.2px solid #111;"></div>
<div class="t" style="left:1014px;top:670px;width:415px;border-top:0.8px solid #111;"></div>
<div class="t" style="left:1014px;top:739px;width:415px;border-top:0.8px solid #111;"></div>
<div class="t" style="left:1014px;top:787px;width:415px;border-top:1.2px solid #111;"></div>
<div class="t" style="left:1105px;top:656px;width:95px;border-top:0.6px solid #333;"></div>
<div class="t" style="left:1215px;top:656px;width:95px;border-top:0.6px solid #333;"></div>
<div class="t" style="left:1326px;top:656px;width:95px;border-top:0.6px solid #333;"></div>
<div class="t s" style="left:1023px;top:649px;font-size:9.5px;font-weight:bold;">Methods</div>
<div class="t s" style="left:1132px;top:643px;font-size:9.5px;font-weight:bold;">CIFAR-10</div>
<div class="t s" style="left:1242px;top:643px;font-size:9.5px;font-weight:bold;">CIFAR-100</div>
<div class="t s" style="left:1342px;top:643px;font-size:9.5px;font-weight:bold;">ImageNet-16-120</div>
<div class="t s" style="left:1116px;top:658px;font-size:9.5px;font-weight:bold;">valid</div><div class="t s" style="left:1174px;top:658px;font-size:9.5px;font-weight:bold;">test</div>
<div class="t s" style="left:1228px;top:658px;font-size:9.5px;font-weight:bold;">valid</div><div class="t s" style="left:1285px;top:658px;font-size:9.5px;font-weight:bold;">test</div>
<div class="t s" style="left:1340px;top:658px;font-size:9.5px;font-weight:bold;">valid</div><div class="t s" style="left:1398px;top:658px;font-size:9.5px;font-weight:bold;">test</div>
<div class="t s" style="left:1023px;top:674px;font-size:9.3px;line-height:10.5px;">ENAS [<span style="outline:0.8px solid #3c3;">40</span>]<br>RSPS [<span style="outline:0.8px solid #3c3;">31</span>]<br>DARTS-V1 [<span style="outline:0.8px solid #3c3;">32</span>]<br>DARTS-V2 [<span style="outline:0.8px solid #3c3;">32</span>]<br>GDAS [<span style="outline:0.8px solid #3c3;">17</span>]<br>SETN [<span style="outline:0.8px solid #3c3;">16</span>]</div>
<div class="t s" style="left:1103px;top:674px;font-size:9.3px;line-height:10.5px;">
<div>37.51±3.19&nbsp; 53.89±0.58&nbsp; 13.37±2.35&nbsp; 13.96±2.33&nbsp; 15.06±1.95&nbsp; 14.84±2.10</div>
<div>80.42±3.58&nbsp; 84.07±3.61&nbsp; 52.12±5.55&nbsp; 52.31±5.77&nbsp; 27.22±3.24&nbsp; 26.28±3.09</div>
<div>39.77±0.00&nbsp; 54.30±0.00&nbsp; 15.03±0.00&nbsp; 15.61±0.00&nbsp; 16.43±0.00&nbsp; 16.32±0.00</div>
<div>39.77±0.00&nbsp; 54.30±0.00&nbsp; 15.03±0.00&nbsp; 15.61±0.00&nbsp; 16.43±0.00&nbsp; 16.32±0.00</div>
<div>89.89±0.08&nbsp; 93.61±0.09&nbsp; 71.34±0.04&nbsp; 70.70±0.30&nbsp; 41.59±1.33&nbsp; 41.71±0.98</div>
<div>84.04±0.28&nbsp; 87.64±0.00&nbsp; 58.86±0.06&nbsp; 59.05±0.24&nbsp; 33.06±0.02&nbsp; 32.52±0.21</div></div>
<div class="t s" style="left:1023px;top:743px;font-size:9.3px;line-height:10.5px;">ZO-AdaMM [<span style="outline:0.8px solid #3c3;">12</span>]<br>ZO-SGD [<span style="outline:0.8px solid #3c3;">22</span>]<br>ZO-signSGD [<span style="outline:0.8px solid #3c3;">34</span>]<br><b>ReLIZO (ours)</b></div>
<div class="t s" style="left:1103px;top:743px;font-size:9.3px;line-height:10.5px;">
<div>85.97±2.28&nbsp; 89.59±2.25&nbsp; 63.24±4.68&nbsp; 63.28±4.86&nbsp; 35.43±4.07&nbsp; 35.63±4.73</div>
<div>88.18±1.26&nbsp; 91.60±1.15&nbsp; 67.59±1.51&nbsp; 67.49±1.05&nbsp; 39.83±1.80&nbsp; 39.79±1.83</div>
<div>85.94±4.37&nbsp; 89.74±3.64&nbsp; 61.89±8.82&nbsp; 62.41±8.91&nbsp; 35.23±6.82&nbsp; 35.28±7.51</div>
<div>89.50±1.53&nbsp; 92.45±1.84&nbsp; 69.00±2.27&nbsp; 69.03±1.98&nbsp; 42.09±3.55&nbsp; 42.31±3.87</div></div>
<div class="t" style="left:1447px;top:576px;font-size:12.6px;line-height:18.3px;color:#3a3a3a;">Zero-order<br>optimization is an<br>effective algorithm<br>for solving AutoML<br>tasks, which can be<br>modeled as bi-level<br>optimization.</div>

<!-- PEFT -->
<div class="sb" style="left:1016px;top:825px;width:300px;"></div><div class="st" style="left:1015px;top:825px;">Parameter Efficient Fine-tuning for LLM</div>
<div class="t s" style="left:1016px;top:846px;font-size:9.1px;line-height:10.5px;">Table 4: Zero-order optimizers with different parameter efficient fine-tuning methods on OPT-1.3b<br>model (with 1.3 billion parameters) on the Stanford Sentiment Treebank v2 (SST2) task.</div>
<div class="t" style="left:1016px;top:869px;width:396px;border-top:1.2px solid #111;"></div>
<div class="t" style="left:1016px;top:902px;width:396px;border-top:0.8px solid #111;"></div>
<div class="t" style="left:1016px;top:918px;width:396px;border-top:0.8px solid #111;"></div>
<div class="t" style="left:1016px;top:970px;width:396px;border-top:1.2px solid #111;"></div>
<div class="t" style="left:1100px;top:886px;width:57px;border-top:0.6px solid #333;"></div>
<div class="t" style="left:1181px;top:886px;width:57px;border-top:0.6px solid #333;"></div>
<div class="t" style="left:1260px;top:886px;width:57px;border-top:0.6px solid #333;"></div>
<div class="t" style="left:1340px;top:886px;width:57px;border-top:0.6px solid #333;"></div>
<div class="t s" style="left:1023px;top:877px;font-size:9.3px;font-weight:bold;">Methods</div>
<div class="t s" style="left:1107px;top:872px;font-size:9.3px;font-weight:bold;">Fine-Tuning</div>
<div class="t s" style="left:1198px;top:872px;font-size:9.3px;font-weight:bold;">LoRA</div>
<div class="t s" style="left:1263px;top:872px;font-size:9.3px;font-weight:bold;">Prefix-Tuning</div>
<div class="t s" style="left:1340px;top:872px;font-size:9.3px;font-weight:bold;">Prompt-Tuning</div>
<div class="t s" style="font-size:9.3px;font-weight:bold;left:1101px;top:889px;">
<div style="position:absolute;left:1px;">Acc</div><div style="position:absolute;left:26px;">Memory</div>
<div style="position:absolute;left:82px;">Acc</div><div style="position:absolute;left:106px;">Memory</div>
<div style="position:absolute;left:161px;">Acc</div><div style="position:absolute;left:185px;">Memory</div>
<div style="position:absolute;left:241px;">Acc</div><div style="position:absolute;left:265px;">Memory</div></div>
<div class="t s" style="left:1023px;top:905px;font-size:9.3px;">SGD</div>
<div class="t s" style="left:1023px;top:922px;font-size:9.3px;line-height:10.8px;">ZO-SGD<br>ZO-SGD-Sign<br>ZO-Adam<br><b>ReLIZO (ours)</b></div>
<div class="t s" style="font-size:9.3px;line-height:10.8px;left:1101px;top:905px;">
<div style="position:absolute;left:0;">91.1</div><div style="position:absolute;left:28px;">44.1 GB</div><div style="position:absolute;left:81px;">93.6</div><div style="position:absolute;left:108px;">44.1 GB</div><div style="position:absolute;left:160px;">93.1</div><div style="position:absolute;left:187px;">42.9 GB</div><div style="position:absolute;left:240px;">92.8</div><div style="position:absolute;left:267px;">50.6 GB</div></div>
<div class="t s" style="font-size:9.3px;line-height:10.8px;left:1101px;top:922px;">
<div style="position:absolute;left:0;">90.8<br>87.2<br>84.4<br><b>93.4</b></div>
<div style="position:absolute;left:28px;">28.7 GB<br>31.4 GB<br>31.4 GB<br>35.7 GB</div>
<div style="position:absolute;left:81px;">90.1<br>91.5<br>92.3<br><b>93.1</b></div>
<div style="position:absolute;left:108px;">19.7 GB<br>19.7 GB<br>19.7 GB<br>19.9 GB</div>
<div style="position:absolute;left:160px;">91.4<br>89.5<br>91.4<br><b>91.8</b></div>
<div style="position:absolute;left:187px;">20.7 GB<br>20.7 GB<br>20.7 GB<br>20.7 GB</div>
<div style="position:absolute;left:240px;">84.4<br>72.9<br>75.7<br><b>90.1</b></div>
<div style="position:absolute;left:267px;">18.8 GB<br>18.8 GB<br>18.8 GB<br>18.9 GB</div></div>
<div class="t" style="left:1431px;top:844px;font-size:12.6px;line-height:18.2px;color:#3a3a3a;">ZO methods are more<br>memory-efficient than<br>gradient-based<br>methods since they do<br>not require a backward<br>pass, making them<br>applicable to PEFT for<br>LLM</div>

</div></body></html>
